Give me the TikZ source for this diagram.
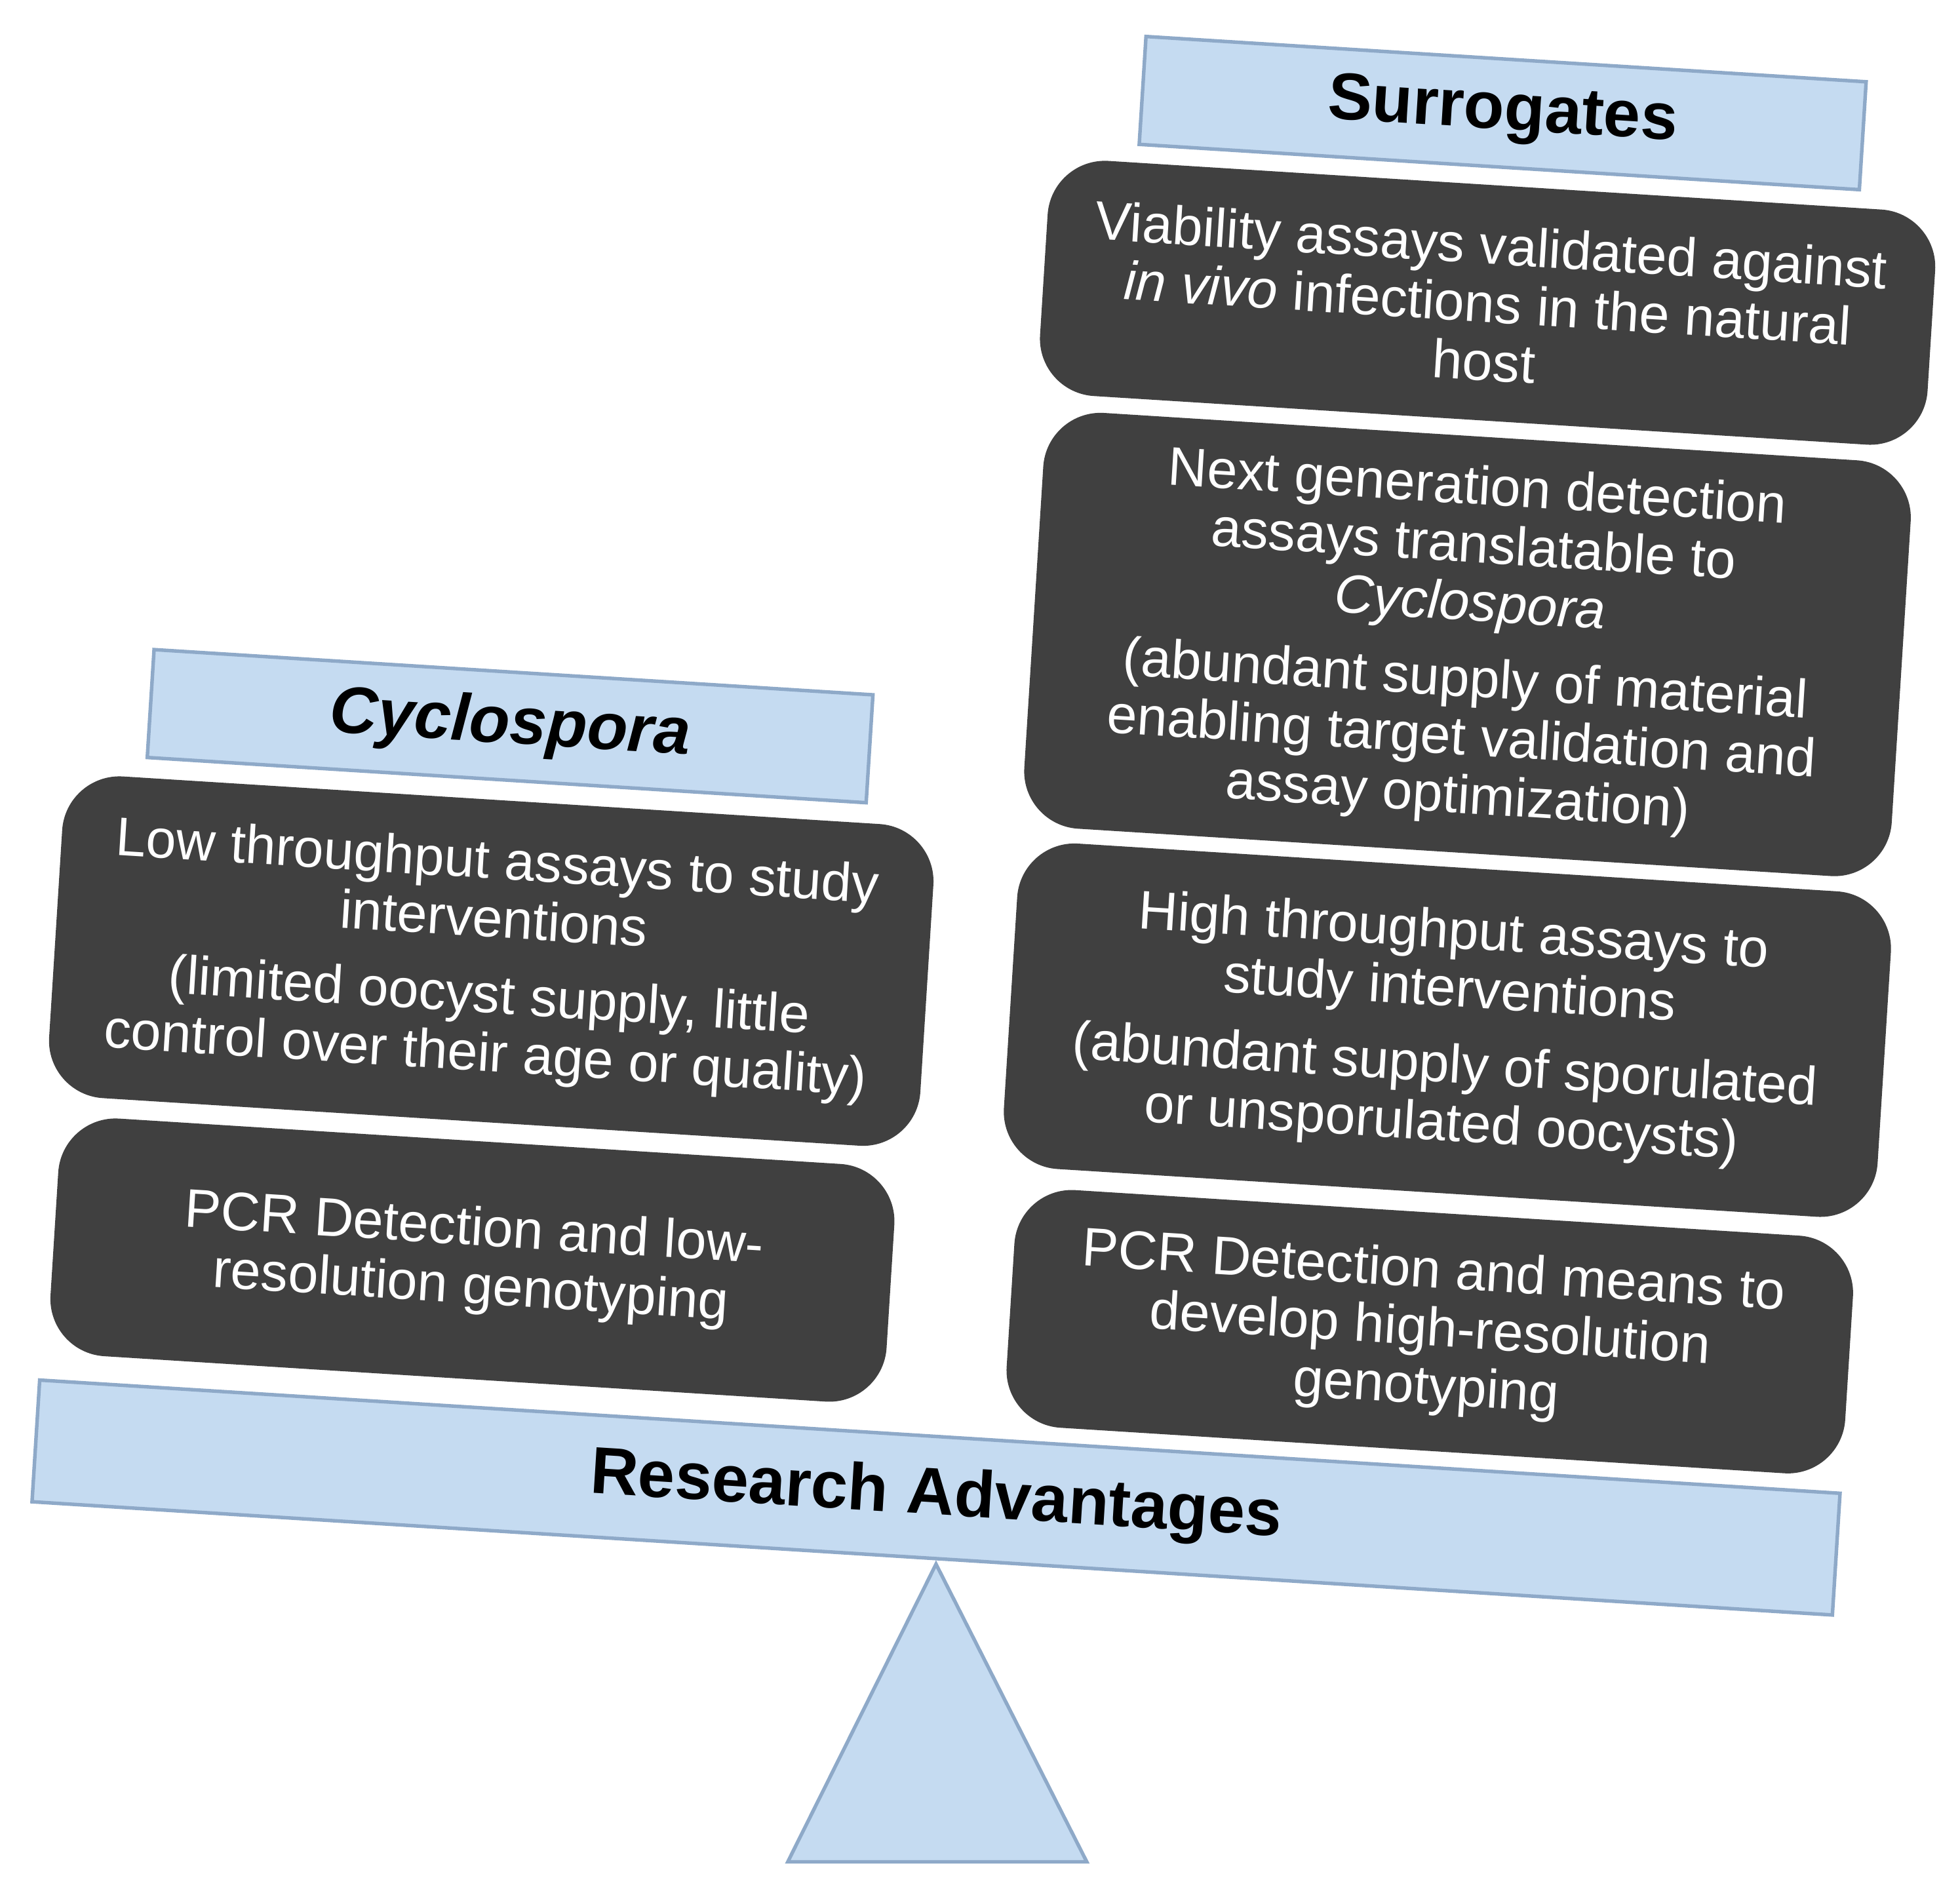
\documentclass[tikz,border=0pt]{standalone}
\usepackage{fontspec}
\setmainfont{Liberation Sans}
\definecolor{paleblue}{HTML}{C5DBF1}
\definecolor{edgeblue}{HTML}{8EA9C8}
\definecolor{darkbox}{HTML}{404040}
\begin{document}
\begin{tikzpicture}[x=0.01cm, y=-0.01cm,
	plank/.style={fill=paleblue, draw=edgeblue, line width=0.8pt, rotate=-3.6, inner sep=0pt, font=\bfseries\fontsize{15}{18}\selectfont},
	advantage/.style={fill=darkbox, draw=darkbox, text=white, rounded corners=0.45cm, rotate=-3.6, inner sep=0pt, align=center, font=\fontsize{12.3}{13.2}\selectfont}]
	\useasboundingbox (0, 0) rectangle (1560, 1505);

	\node[plank, minimum width=14.35cm, minimum height=0.97cm] (beam) at (745, 1192) {Research Advantages};
	\draw[fill=paleblue, draw=edgeblue, line width=0.8pt] (745, 1245) -- (865, 1482) -- (627, 1482) -- cycle;

	\node[plank, minimum width=5.73cm, minimum height=0.86cm] (cyclo) at (406, 578) {\itshape Cyclospora};
	\node[advantage, minimum width=6.93cm, minimum height=2.55cm] (cyclo-assay) at (391, 765)
		{Low throughput assays to study\\interventions\\[4pt](limited oocyst supply, little\\control over their age or quality)};
	\node[advantage, minimum width=6.65cm, minimum height=1.88cm] (cyclo-pcr) at (376, 1003)
		{PCR Detection and low-\\resolution genotyping};

	\node[plank, minimum width=5.74cm, minimum height=0.86cm] (surr) at (1196, 90) {Surrogates};
	\node[advantage, minimum width=7.06cm, minimum height=1.86cm] (surr-viab) at (1184, 241)
		{Viability assays validated against\\\textit{in vivo} infections in the natural\\host};
	\node[advantage, minimum width=6.9cm, minimum height=3.3cm] (surr-next) at (1168, 513)
		{Next generation detection\\assays translatable to\\\textit{Cyclospora}\\[4pt](abundant supply of material\\enabling target validation and\\assay optimization)};
	\node[advantage, minimum width=6.95cm, minimum height=2.58cm] (surr-assay) at (1152, 820)
		{High throughput assays to\\study interventions\\[4pt](abundant supply of sporulated\\or unsporulated oocysts)};
	\node[advantage, minimum width=6.67cm, minimum height=1.88cm] (surr-pcr) at (1138, 1060)
		{PCR Detection and means to\\develop high-resolution\\genotyping};
\end{tikzpicture}
\end{document}
